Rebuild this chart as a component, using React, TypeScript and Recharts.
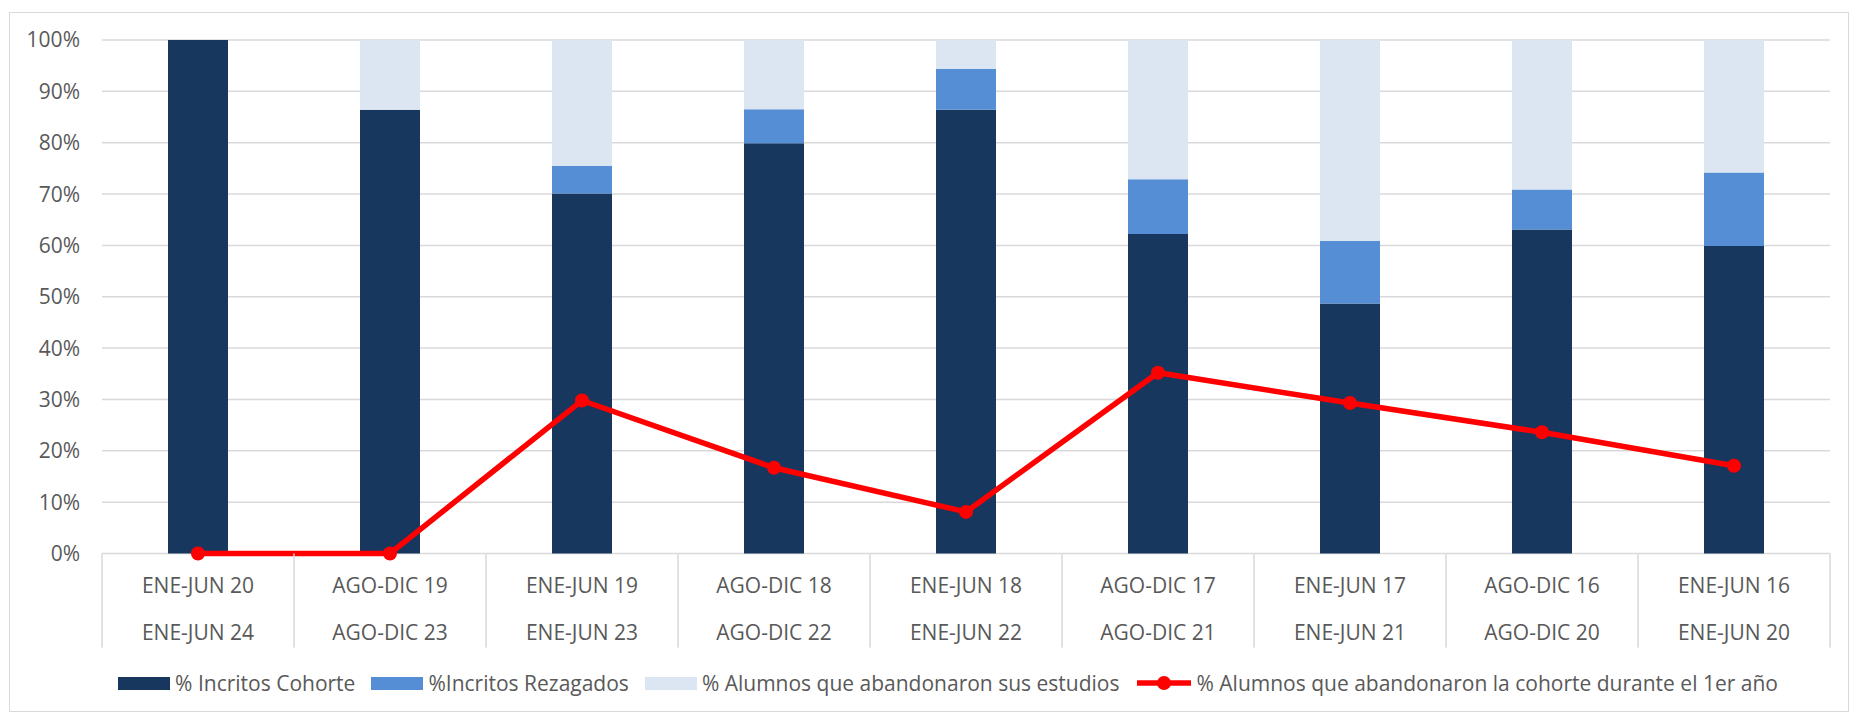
import { ComposedChart, Bar, Line, XAxis, YAxis, CartesianGrid } from "recharts";

// Category labels (two rows under each bar)
const topLabels = ["ENE-JUN 20", "AGO-DIC 19", "ENE-JUN 19", "AGO-DIC 18", "ENE-JUN 18", "AGO-DIC 17", "ENE-JUN 17", "AGO-DIC 16", "ENE-JUN 16"];
const bottomLabels = ["ENE-JUN 24", "AGO-DIC 23", "ENE-JUN 23", "AGO-DIC 22", "ENE-JUN 22", "AGO-DIC 21", "ENE-JUN 21", "AGO-DIC 20", "ENE-JUN 20"];

// Series values (%)
const cohorte = [100, 86.4, 70.1, 79.9, 86.4, 62.2, 48.7, 63.1, 59.9];
const rezagados = [0, 0, 5.4, 6.6, 8.0, 10.7, 12.2, 7.8, 14.3];
const abandono = [0, 13.6, 24.5, 13.5, 5.6, 27.1, 39.1, 29.1, 25.8];
const abandonoPrimerAnio = [0, 0, 29.8, 16.7, 8.1, 35.2, 29.3, 23.6, 17.1];

const yTicks = [0, 10, 20, 30, 40, 50, 60, 70, 80, 90, 100];

const names = {
    cohorte: "% Incritos Cohorte",
    rezagados: "%Incritos Rezagados",
    abandono: "% Alumnos que abandonaron sus estudios",
    line: "% Alumnos que abandonaron la cohorte durante el 1er año",
};

const colors = {
    cohorte: "#18375e",
    rezagados: "#558ed5",
    abandono: "#dce6f2",
    line: "#ff0000",
    grid: "#d9d9d9",
    text: "#595959",
};

const data = topLabels.map((top, i) => ({
    key: `${top}|${bottomLabels[i]}`,
    cohorte: cohorte[i],
    rezagados: rezagados[i],
    abandono: abandono[i],
    line: abandonoPrimerAnio[i],
}));

// layout
const W = 1858;
const H = 714;
const margin = { top: 40, right: 28, bottom: 66.5, left: 0 };
const yAxisWidth = 102;
const xAxisHeight = 94;
const band = (W - margin.right - yAxisWidth) / data.length;
const font = "'Open Sans', sans-serif";

function CategoryTick(props: any) {
    const { x, y, index } = props;
    const half = band / 2;
    return (
        <g>
            <line x1={x - half} y1={y} x2={x - half} y2={y + xAxisHeight} stroke={colors.grid} strokeWidth={1.5} />
            {index === data.length - 1 && (
                <line x1={x + half} y1={y} x2={x + half} y2={y + xAxisHeight} stroke={colors.grid} strokeWidth={1.5} />
            )}
            <text x={x} y={y + 39} textAnchor="middle" fill={colors.text} fontSize={21} fontFamily={font}>
                {topLabels[index]}
            </text>
            <text x={x} y={y + 86} textAnchor="middle" fill={colors.text} fontSize={21} fontFamily={font}>
                {bottomLabels[index]}
            </text>
        </g>
    );
}

function LegendRow() {
    const items = [
        { label: names.cohorte, color: colors.cohorte, line: false },
        { label: names.rezagados, color: colors.rezagados, line: false },
        { label: names.abandono, color: colors.abandono, line: false },
        { label: names.line, color: colors.line, line: true },
    ];
    return (
        <div
            style={{
                position: "absolute",
                left: 0,
                top: 668,
                width: 1896,
                height: 30,
                display: "flex",
                justifyContent: "center",
                alignItems: "center",
                gap: 16,
                fontFamily: font,
                fontSize: 21,
                color: colors.text,
                whiteSpace: "nowrap",
            }}
        >
            {items.map((it) => (
                <div key={it.label} style={{ display: "flex", alignItems: "center", gap: 5 }}>
                    {it.line ? (
                        <svg width={56} height={16}>
                            <line x1={1} y1={8} x2={55} y2={8} stroke={it.color} strokeWidth={5.5} />
                            <circle cx={28} cy={8} r={7} fill={it.color} />
                        </svg>
                    ) : (
                        <div style={{ width: 52, height: 13, background: it.color }} />
                    )}
                    <span>{it.label}</span>
                </div>
            ))}
        </div>
    );
}

export default function App() {
    return (
        <div style={{ position: "absolute", left: 0, top: 0, width: W, height: H, background: "#fff" }}>
            <div
                style={{
                    position: "absolute",
                    left: 9,
                    top: 12,
                    width: 1840,
                    height: 700,
                    border: `1.5px solid ${colors.grid}`,
                    boxSizing: "border-box",
                }}
            />
            <div style={{ position: "absolute", left: 0, top: 0 }}>
                <ComposedChart width={W} height={H} data={data} margin={margin} barCategoryGap={0}>
                    <CartesianGrid vertical={false} stroke={colors.grid} strokeWidth={1.5} />
                    <XAxis
                        dataKey="key"
                        height={xAxisHeight}
                        interval={0}
                        tickLine={false}
                        tickSize={0}
                        tickMargin={0}
                        axisLine={false}
                        tick={<CategoryTick />}
                    />
                    <YAxis
                        width={yAxisWidth}
                        domain={[0, 100]}
                        ticks={yTicks}
                        interval={0}
                        axisLine={false}
                        tickLine={false}
                        tickSize={0}
                        tickMargin={22}
                        tickFormatter={(v) => `${v}%`}
                        tick={{ fill: colors.text, fontSize: 21, fontFamily: font }}
                    />
                    <Bar dataKey="cohorte" name={names.cohorte} stackId="a" fill={colors.cohorte} barSize={60} isAnimationActive={false} />
                    <Bar dataKey="rezagados" name={names.rezagados} stackId="a" fill={colors.rezagados} barSize={60} isAnimationActive={false} />
                    <Bar dataKey="abandono" name={names.abandono} stackId="a" fill={colors.abandono} barSize={60} isAnimationActive={false} />
                    <Line
                        type="linear"
                        dataKey="line"
                        name={names.line}
                        stroke={colors.line}
                        strokeWidth={5.5}
                        dot={{ r: 7, fill: colors.line, stroke: colors.line, strokeWidth: 0 }}
                        activeDot={false}
                        isAnimationActive={false}
                    />
                </ComposedChart>
            </div>
            <LegendRow />
        </div>
    );
}
